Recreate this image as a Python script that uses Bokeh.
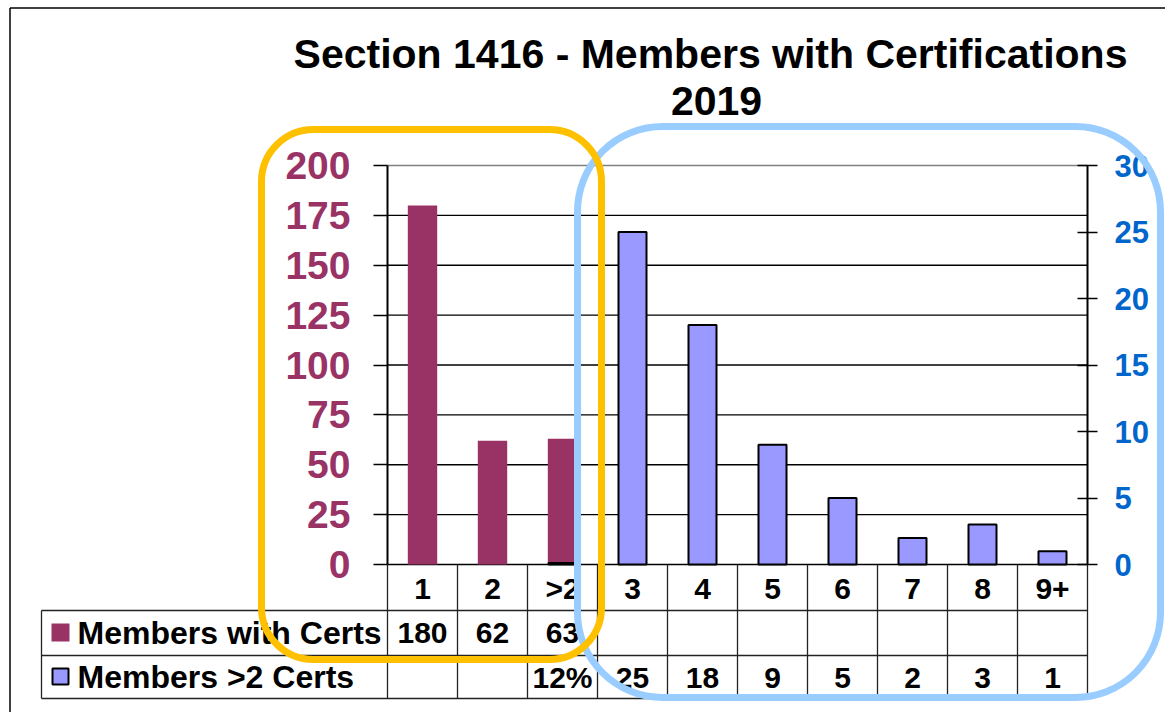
from bokeh.plotting import figure
from bokeh.models import LinearAxis, Range1d, FixedTicker
from bokeh.core.properties import value
from bokeh.embed import file_html
from bokeh.resources import INLINE

# ---------------- data ----------------
title_lines = ["Section 1416 - Members with Certifications", "2019"]
categories = ["1", "2", ">2", "3", "4", "5", "6", "7", "8", "9+"]
members_with_certs = [180, 62, 63, None, None, None, None, None, None, None]
members_gt2_certs = [None, None, 0.12, 25, 18, 9, 5, 2, 3, 1]
series_names = ["Members with Certs", "Members >2 Certs"]
left_ticks = [0, 25, 50, 75, 100, 125, 150, 175, 200]
right_ticks = [0, 5, 10, 15, 20, 25, 30]

# ---------------- layout (pixel anchors of the reference picture) ----------------
W, H = 1165, 712
OX, OY = 0, 0
CAT0_PX = 422
CAT_PX = 70
ZERO_PX = 564
TOP_PX = 165
LEFT_MAX = left_ticks[-1]
RIGHT_MAX = right_ticks[-1]
left_scale = (ZERO_PX - TOP_PX) / LEFT_MAX
right_scale = (ZERO_PX - TOP_PX) / RIGHT_MAX


def X(px):
    return (px - CAT0_PX) / CAT_PX


def Y(py):
    return (ZERO_PX - py) / left_scale


n = len(categories)
xl, xr = -0.5, n - 0.5
FONT = value("Liberation Sans")

p = figure(width=W, height=H, x_range=Range1d(X(OX), X(OX + W)),
           y_range=Range1d(Y(OY + H), Y(OY)),
           output_backend="svg", toolbar_location=None,
           x_axis_type=None, y_axis_type=None,
           min_border=0, min_border_left=0, min_border_right=0,
           min_border_top=0, min_border_bottom=0)
p.outline_line_color = None
p.extra_y_ranges = {"right": Range1d((ZERO_PX - (OY + H)) / right_scale,
                                     (ZERO_PX - OY) / right_scale)}

# outer frame (left and top edges visible)
p.segment(x0=[X(9.5), X(9.5)], y0=[Y(7.5), Y(7.5)],
          x1=[X(9.5), X(OX + W)], y1=[Y(OY + H), Y(7.5)],
          line_color="black", line_width=1.5)

# gridlines
grid_y = left_ticks[:-1]
p.segment(x0=[xl] * len(grid_y), y0=grid_y, x1=[xr] * len(grid_y), y1=grid_y,
          line_color="black", line_width=1.3)
p.segment(x0=[xl], y0=[LEFT_MAX], x1=[xr], y1=[LEFT_MAX],
          line_color="#808080", line_width=1.5)

# bars
i1 = [i for i, v in enumerate(members_with_certs) if v is not None]
p.vbar(x=i1, top=[members_with_certs[i] for i in i1], bottom=0, width=0.42,
       fill_color="#993366", line_color=None)
i2 = [i for i, v in enumerate(members_gt2_certs) if v is not None]
p.vbar(x=i2, top=[members_gt2_certs[i] for i in i2], bottom=0, width=0.40,
       fill_color="#9999FF", line_color="black", line_width=2,
       y_range_name="right")

# axes
ly = LinearAxis(fixed_location=xl, bounds=(0, LEFT_MAX),
                ticker=FixedTicker(ticks=left_ticks))
ly.axis_line_width = 2
ly.major_tick_in = 0
ly.major_tick_out = 14
ly.major_tick_line_width = 1.5
ly.minor_tick_line_color = None
ly.major_label_text_font = "Liberation Sans"
ly.major_label_text_font_style = "bold"
ly.major_label_text_font_size = "39px"
ly.major_label_text_color = "#993366"
ly.major_label_standoff = 23
p.add_layout(ly, "left")

ry = LinearAxis(y_range_name="right", fixed_location=xr, bounds=(0, RIGHT_MAX),
                ticker=FixedTicker(ticks=right_ticks))
ry.axis_line_width = 2
ry.major_tick_in = 10
ry.major_tick_out = 10
ry.major_tick_line_width = 1.5
ry.minor_tick_line_color = None
ry.major_label_text_font = "Liberation Sans"
ry.major_label_text_font_style = "bold"
ry.major_label_text_font_size = "31px"
ry.major_label_text_color = "#0066CC"
ry.major_label_standoff = 17
p.add_layout(ry, "right")

# data table below the chart
row_top, row1, row2, row_bot = Y(564), Y(610), Y(655), Y(698)
tl = X(41)
hx0 = [tl, tl, tl]
hy = [row1, row2, row_bot]
p.segment(x0=hx0, y0=hy, x1=[xr] * 3, y1=hy, line_color="#222222", line_width=1.3)
vx = [i - 0.5 for i in range(n + 1)]
p.segment(x0=vx, y0=[row_top] * len(vx), x1=vx, y1=[row_bot] * len(vx),
          line_color="#222222", line_width=1.3)
p.segment(x0=[tl], y0=[row1], x1=[tl], y1=[row_bot], line_color="#222222", line_width=1.3)

p.text(x=list(range(n)), y=[Y(588)] * n, text=categories,
       text_font=FONT, text_font_style="bold", text_font_size="30px",
       text_align="center", text_baseline="middle", text_color="black")


def fmt(v):
    if v is None:
        return ""
    if v < 1:
        return f"{v:.0%}"
    return str(v)


p.text(x=list(range(n)), y=[Y(632)] * n, text=[fmt(v) for v in members_with_certs],
       text_font=FONT, text_font_style="bold", text_font_size="30px",
       text_align="center", text_baseline="middle", text_color="black")
p.text(x=list(range(n)), y=[Y(677)] * n, text=[fmt(v) for v in members_gt2_certs],
       text_font=FONT, text_font_style="bold", text_font_size="30px",
       text_align="center", text_baseline="middle", text_color="black")

# legend keys
p.quad(left=[X(51)], right=[X(69)], top=[Y(623)], bottom=[Y(641)],
       fill_color="#993366", line_color=None)
p.quad(left=[X(52)], right=[X(68)], top=[Y(668)], bottom=[Y(684)],
       fill_color="#9999FF", line_color="black", line_width=2)
p.text(x=[X(77), X(77)], y=[Y(632), Y(676)], text=series_names,
       text_font=FONT, text_font_style="bold", text_font_size="32px",
       text_align="left", text_baseline="middle", text_color="black")

# title
p.text(x=[X(710), X(716)], y=[Y(53), Y(100)], text=title_lines,
       text_font=FONT, text_font_style="bold", text_font_size="41px",
       text_align="center", text_baseline="middle", text_color="black")

# highlight frames
p.quad(left=[X(577)], right=[X(1160)], top=[Y(126)], bottom=[Y(697)],
       fill_color=None, line_color="#99CCFF", line_width=7, border_radius=85,
       level="overlay")
p.quad(left=[X(261)], right=[X(601)], top=[Y(129)], bottom=[Y(659)],
       fill_color=None, line_color="#FFC000", line_width=7, border_radius=52,
       level="overlay")

open("out.html", "w").write(file_html(p, INLINE))
